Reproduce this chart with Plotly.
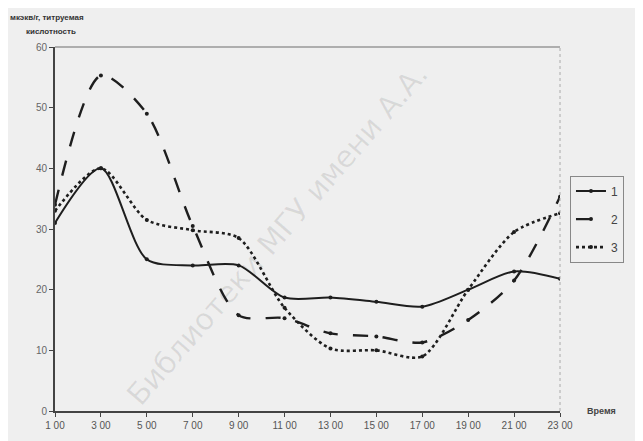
import plotly.graph_objects as go

times = ["1 00", "3 00", "5 00", "7 00", "9 00", "11 00", "13 00", "15 00", "17 00", "19 00", "21 00", "23 00"]
series1 = [31, 40, 25, 24, 24, 18.7, 18.7, 18, 17.2, 20, 23, 21.8]
series2 = [34, 55.3, 49, 30.5, 15.8, 15.3, 12.8, 12.3, 11.3, 15, 21.5, 35.3]
series3 = [33, 40, 31.5, 29.8, 28.5, 17, 10.3, 10, 9, 20, 29.5, 32.6]
names = ["1", "2", "3"]
yticks = [0, 10, 20, 30, 40, 50, 60]

xpos = list(range(len(times)))
ink = "#1e1e1e"

fig = go.Figure()
styles = [("solid", 2.0), ("longdash", 2.4), ("dot", 2.6)]
for name, vals, (dash, w) in zip(names, [series1, series2, series3], styles):
    fig.add_trace(go.Scatter(
        x=xpos, y=vals, name=name, mode="lines+markers", legendgroup=name,
        line=dict(color=ink, width=w, dash=dash, shape="spline", smoothing=0.8),
        marker=dict(color=ink, size=4, symbol="circle"),
    ))

fig.update_layout(
    width=643, height=441,
    margin=dict(l=47, r=91, t=39, b=38, autoexpand=False),
    paper_bgcolor="#efefef", plot_bgcolor="#efefef",
    showlegend=True,
    legend=dict(xref="container", yref="container", x=0.874, y=0.62,
                xanchor="left", yanchor="top",
                bgcolor="#efefef", bordercolor="#888", borderwidth=1,
                font=dict(family="Liberation Sans", size=12, color="#444"),
                itemwidth=30, tracegroupgap=9),
    font=dict(family="Liberation Sans", size=10, color="#555"),
)
fig.update_xaxes(
    tickmode="array", tickvals=xpos, ticktext=times, range=[0, 11],
    showgrid=False, zeroline=False, showline=True, linecolor="#444", linewidth=2,
    ticks="outside", ticklen=4, tickcolor="#444", automargin=False,
    tickfont=dict(size=10, color="#555"),
)
fig.update_yaxes(
    tickmode="array", tickvals=yticks, range=[0, 60],
    showgrid=False, zeroline=False, showline=True, linecolor="#444", linewidth=2,
    ticks="outside", ticklen=4, tickcolor="#444", automargin=False,
    tickfont=dict(size=10, color="#666"),
)
# top and right frame
fig.add_shape(type="line", xref="paper", yref="paper", x0=0, x1=1, y0=1, y1=1,
              line=dict(color="#999", width=1.5))
fig.add_shape(type="line", xref="paper", yref="paper", x0=1, x1=1, y0=0, y1=1,
              line=dict(color="#aaa", width=1, dash="dot"))

fig.add_annotation(text="<b>мкэкв/г, титруемая</b>", xref="paper", yref="paper",
                   x=-0.094, y=1.08, xanchor="left", yanchor="middle", showarrow=False,
                   font=dict(size=8, color="#333"))
fig.add_annotation(text="<b>кислотность</b>", xref="paper", yref="paper",
                   x=-0.062, y=1.043, xanchor="left", yanchor="middle", showarrow=False,
                   font=dict(size=8, color="#333"))
fig.add_annotation(text="<b>Время</b>", xref="paper", yref="paper",
                   x=1.05, y=0.0, xanchor="left", yanchor="middle", showarrow=False,
                   font=dict(size=9, color="#444"))
# watermark
fig.add_annotation(text="Библиотеки МГУ имени А.А.", xref="paper", yref="paper",
                   x=0.757, y=0.486, showarrow=False, textangle=-49,
                   font=dict(family="DejaVu Sans", size=30, color="rgba(0,0,0,0.09)"))

fig.write_html("out.html")
